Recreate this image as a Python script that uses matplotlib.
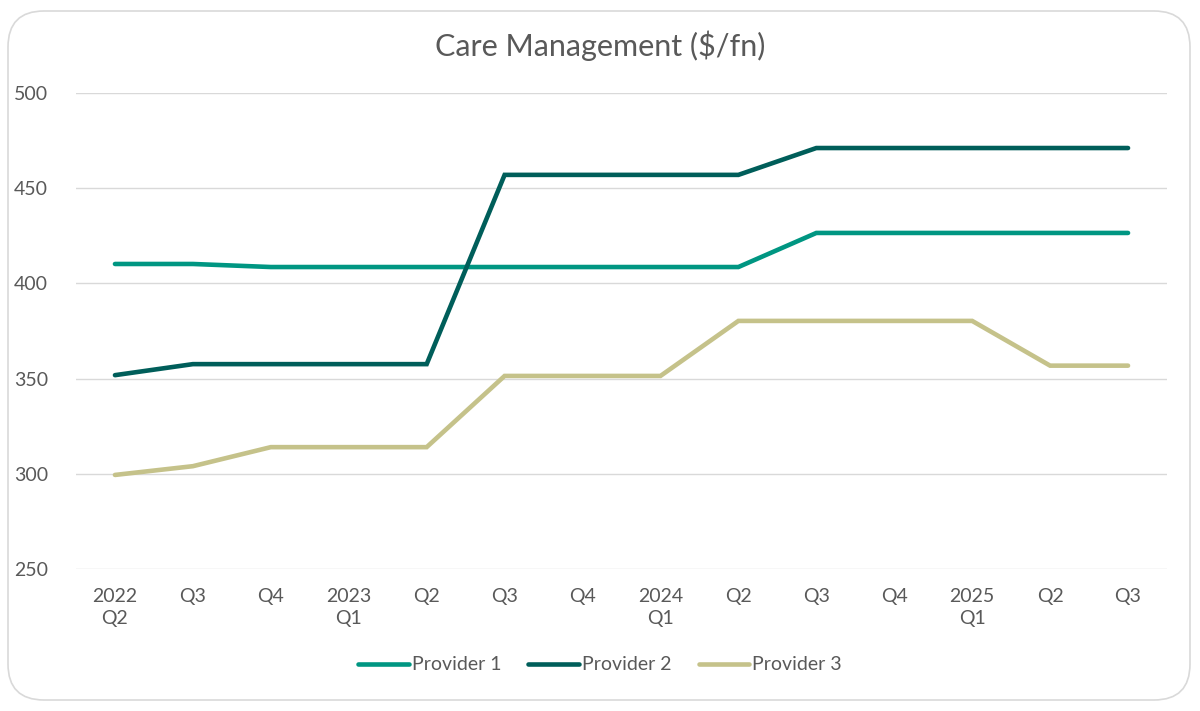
import matplotlib.pyplot as plt
from matplotlib.patches import FancyBboxPatch

# categories (quarters)
quarters = ["2022\nQ2", "Q3", "Q4", "2023\nQ1", "Q2", "Q3", "Q4",
            "2024\nQ1", "Q2", "Q3", "Q4", "2025\nQ1", "Q2", "Q3"]

provider_1 = [410.2, 410.2, 408.6, 408.6, 408.6, 408.6, 408.6,
              408.6, 408.6, 426.5, 426.5, 426.5, 426.5, 426.5]
provider_2 = [351.8, 357.6, 357.6, 357.6, 357.6, 457.0, 457.0,
              457.0, 457.0, 471.1, 471.1, 471.1, 471.1, 471.1]
provider_3 = [299.4, 304.0, 314.0, 314.0, 314.0, 351.4, 351.4,
              351.4, 380.3, 380.3, 380.3, 380.3, 356.8, 356.8]

series = [
    ("Provider 1", provider_1, "#009682"),
    ("Provider 2", provider_2, "#005E5A"),
    ("Provider 3", provider_3, "#C5C28A"),
]

plt.rcParams["font.family"] = ["Lato", "DejaVu Sans"]
text_color = "#595959"

fig = plt.figure(figsize=(12, 7.11), dpi=100)
W, H = 1200, 711

# rounded frame around the chart
frame = FancyBboxPatch((8 / W, 11 / H), 1182 / W, 689 / H,
                       boxstyle="round,pad=0,rounding_size=0.03",
                       transform=fig.transFigure, facecolor="white",
                       edgecolor="#D9D9D9", linewidth=1.2, mutation_aspect=W / H,
                       zorder=-10)
fig.patches.append(frame)

ax = fig.add_axes([76 / W, 1 - 569 / H, (1167 - 76) / W, (569 - 93) / H])
ax.set_facecolor("none")

x = range(len(quarters))
for name, vals, color in series:
    ax.plot(x, vals, color=color, linewidth=3.3, label=name,
            solid_capstyle="round", solid_joinstyle="miter")

ax.set_xlim(-0.5, len(quarters) - 0.5)
ax.set_ylim(250, 500)
ax.set_yticks(range(250, 501, 50))
ax.set_xticks(list(x))
ax.set_xticklabels(quarters, linespacing=1.3)
ax.grid(axis="y", color="#D9D9D9", linewidth=1)
ax.set_axisbelow(True)
for s in ax.spines.values():
    s.set_visible(False)
ax.tick_params(axis="both", length=0, labelsize=14, colors=text_color)
ax.tick_params(axis="y", pad=20)
ax.tick_params(axis="x", pad=14)

fig.text(0.5, 1 - 46 / H, "Care Management ($/fn)", ha="center", va="center",
         fontsize=22, color=text_color)

fig.legend(loc="center", bbox_to_anchor=(0.5, 1 - 665 / H), ncol=3, frameon=False,
           fontsize=14, labelcolor=text_color, handlelength=2.6,
           handletextpad=0.15, columnspacing=1.4)

fig.savefig("out.png", dpi=100)
